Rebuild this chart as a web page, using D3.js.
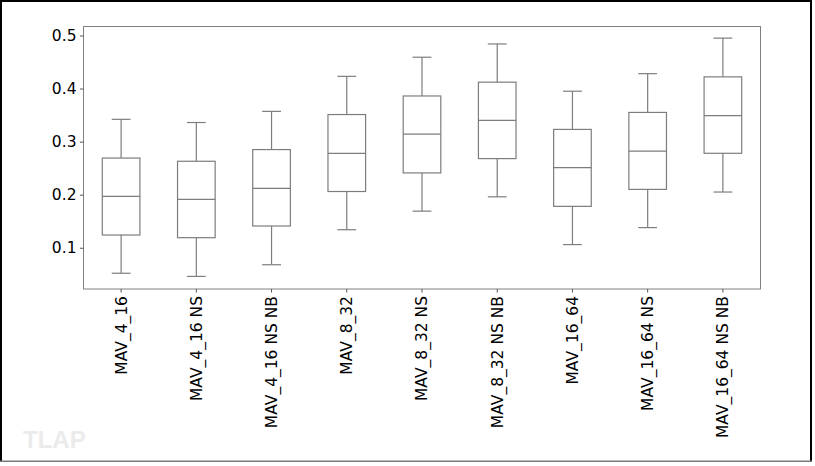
<!DOCTYPE html>
<html>
<head>
<meta charset="utf-8">
<script src="https://cdn.jsdelivr.net/npm/d3@7"></script>
<style>
  html, body { margin: 0; padding: 0; background: #fff; }
  svg { display: block; }
</style>
</head>
<body>
<svg id="chart" width="815" height="466"></svg>
<script>
const categories = ["MAV_4_16", "MAV_4_16 NS", "MAV_4_16 NS NB", "MAV_8_32", "MAV_8_32 NS",
                    "MAV_8_32 NS NB", "MAV_16_64", "MAV_16_64 NS", "MAV_16_64 NS NB"];
const whiskerLow  = [0.052, 0.046, 0.068, 0.134, 0.169, 0.196, 0.106, 0.138, 0.205];
const q1          = [0.124, 0.119, 0.141, 0.206, 0.241, 0.268, 0.178, 0.210, 0.278];
const median      = [0.197, 0.191, 0.212, 0.278, 0.314, 0.340, 0.251, 0.282, 0.349];
const q3          = [0.269, 0.263, 0.285, 0.351, 0.386, 0.412, 0.323, 0.355, 0.422];
const whiskerHigh = [0.342, 0.336, 0.357, 0.423, 0.459, 0.484, 0.395, 0.428, 0.495];
const yTicks = [0.1, 0.2, 0.3, 0.4, 0.5];
const watermark = "TLAP";

const svg = d3.select("#chart");
const plot = { left: 83.5, right: 760.5, top: 26.5, bottom: 289 };
const fontSize = 15.5;

// outer frame
svg.append("line").attr("x1", 1).attr("x2", 1).attr("y1", 0).attr("y2", 462)
  .attr("stroke", "#000").attr("stroke-width", 2);
svg.append("line").attr("x1", 0).attr("x2", 812).attr("y1", 1).attr("y2", 1)
  .attr("stroke", "#000").attr("stroke-width", 2);
svg.append("line").attr("x1", 811).attr("x2", 811).attr("y1", 0).attr("y2", 462)
  .attr("stroke", "#000").attr("stroke-width", 2);
svg.append("line").attr("x1", 0).attr("x2", 812).attr("y1", 461.2).attr("y2", 461.2)
  .attr("stroke", "#7a7a7a").attr("stroke-width", 1.6);

// watermark
svg.append("text").attr("x", 23).attr("y", 447.5)
  .attr("font-family", "Liberation Sans, Arial, sans-serif").attr("font-weight", "bold")
  .attr("font-size", 24).attr("fill", "#ebebeb").text(watermark);

const x = d3.scaleBand().domain(categories).range([plot.left, plot.right]).padding(0);
const y = d3.scaleLinear().domain([0.0223, 0.5169]).range([plot.bottom, plot.top]);

const boxW = x.bandwidth() * 0.5;
const capW = boxW * 0.5;
const boxColor = "#7d7d7d";

const data = categories.map((c, i) => ({
  c, lo: whiskerLow[i], q1: q1[i], med: median[i], q3: q3[i], hi: whiskerHigh[i]
}));

const g = svg.append("g");
const box = g.selectAll("g.box").data(data).join("g").attr("class", "box");
const cx = d => x(d.c) + x.bandwidth() / 2;

// whiskers
box.append("line").attr("x1", cx).attr("x2", cx)
  .attr("y1", d => y(d.q3)).attr("y2", d => y(d.hi))
  .attr("stroke", boxColor).attr("stroke-width", 1.2);
box.append("line").attr("x1", cx).attr("x2", cx)
  .attr("y1", d => y(d.q1)).attr("y2", d => y(d.lo))
  .attr("stroke", boxColor).attr("stroke-width", 1.2);
// caps
box.append("line").attr("x1", d => cx(d) - capW / 2).attr("x2", d => cx(d) + capW / 2)
  .attr("y1", d => y(d.hi)).attr("y2", d => y(d.hi))
  .attr("stroke", boxColor).attr("stroke-width", 1.2);
box.append("line").attr("x1", d => cx(d) - capW / 2).attr("x2", d => cx(d) + capW / 2)
  .attr("y1", d => y(d.lo)).attr("y2", d => y(d.lo))
  .attr("stroke", boxColor).attr("stroke-width", 1.2);
// boxes
box.append("rect").attr("x", d => cx(d) - boxW / 2).attr("width", boxW)
  .attr("y", d => y(d.q3)).attr("height", d => y(d.q1) - y(d.q3))
  .attr("fill", "none").attr("stroke", boxColor).attr("stroke-width", 1.2);
// medians
box.append("line").attr("x1", d => cx(d) - boxW / 2).attr("x2", d => cx(d) + boxW / 2)
  .attr("y1", d => y(d.med)).attr("y2", d => y(d.med))
  .attr("stroke", boxColor).attr("stroke-width", 1.2);

// plot frame
svg.append("rect").attr("x", plot.left).attr("y", plot.top)
  .attr("width", plot.right - plot.left).attr("height", plot.bottom - plot.top)
  .attr("fill", "none").attr("stroke", "#808080").attr("stroke-width", 1);

// y axis
const yAxis = svg.append("g").attr("transform", `translate(${plot.left},0)`)
  .call(d3.axisLeft(y).tickValues(yTicks).tickFormat(d3.format(".1f")).tickSize(3.5).tickPadding(3.5));
yAxis.select(".domain").remove();
yAxis.selectAll("line").attr("stroke", "#555");
yAxis.selectAll("text").attr("font-family", "DejaVu Sans, sans-serif").attr("font-size", fontSize)
  .attr("fill", "#000");

// x axis
const xAxis = svg.append("g").attr("transform", `translate(0,${plot.bottom})`)
  .call(d3.axisBottom(x).tickSize(3.5).tickPadding(3.5));
xAxis.select(".domain").remove();
xAxis.selectAll("line").attr("stroke", "#555");
xAxis.selectAll("text").attr("font-family", "DejaVu Sans, sans-serif").attr("font-size", fontSize)
  .attr("fill", "#000")
  .attr("transform", "rotate(-90)")
  .attr("text-anchor", "end")
  .attr("x", -7).attr("y", 0).attr("dy", "0.35em");
</script>
</body>
</html>
